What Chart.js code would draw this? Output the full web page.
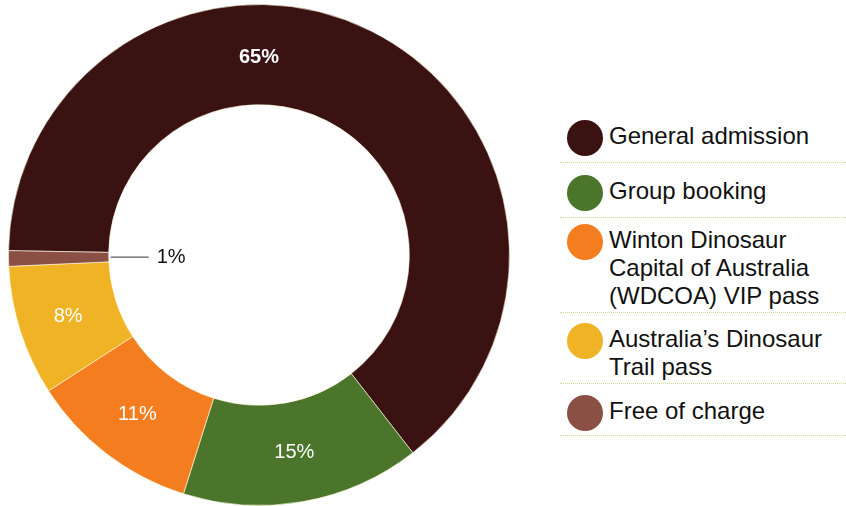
<!DOCTYPE html>
<html>
<head>
<meta charset="utf-8">
<script src="https://cdn.jsdelivr.net/npm/chart.js@4"></script>
<style>
  html, body { margin: 0; padding: 0; background: #fff; overflow: hidden; }
  body { width: 846px; height: 506px; position: relative; font-family: "Liberation Sans", Arial, sans-serif; }
  #ticketChart { position: absolute; left: 0; top: 0; }
  #legend { position: absolute; left: 560px; top: 108px; width: 286px; }
  .row { display: flex; align-items: flex-start; box-sizing: border-box; border-bottom: 1px dotted #d9d39c; padding-left: 7px; }
  .dot { width: 36px; height: 36px; border-radius: 50%; flex: none; margin-top: -2px; margin-right: 6px; }
  .txt { font-size: 24px; line-height: 28px; color: #111; width: 230px; }
</style>
</head>
<body>
<canvas id="ticketChart" width="520" height="506"></canvas>
<div id="legend"></div>
<script>
const labels = ['General admission', 'Group booking', 'Winton Dinosaur Capital of Australia (WDCOA) VIP pass', 'Australia\u2019s Dinosaur Trail pass', 'Free of charge'];
const shares = [64.2, 15.4, 11.0, 8.4, 1.0];
const shareLabels = ['65%', '15%', '11%', '8%', '1%'];
const colors = ['#3b1212', '#4a752a', '#f47d20', '#f0b325', '#8a4f45'];

// legend rows (heights / top padding picked by eye)
const rowHeights = [55, 55, 95, 71, 52];
const rowPads = [14, 14, 8, 12, 13];
const legendEl = document.getElementById('legend');
labels.forEach((lab, i) => {
    const row = document.createElement('div');
    row.className = 'row';
    row.style.height = rowHeights[i] + 'px';
    row.style.paddingTop = rowPads[i] + 'px';
    row.innerHTML = '<div class="dot" style="background:' + colors[i] + '"></div><div class="txt">' + lab + '</div>';
    legendEl.appendChild(row);
});

// percentage labels on the ring
const sliceLabels = {
    id: 'sliceLabels',
    afterDatasetsDraw(chart) {
        const ctx = chart.ctx;
        const meta = chart.getDatasetMeta(0);
        ctx.save();
        ctx.textBaseline = 'middle';
        meta.data.forEach((arc, i) => {
            const p = arc.getProps(['x', 'y', 'startAngle', 'endAngle', 'innerRadius', 'outerRadius'], true);
            let ang = (p.startAngle + p.endAngle) / 2;
            let r = (p.innerRadius + p.outerRadius) / 2;
            if (i === 0) { ang = -Math.PI / 2; r -= 3; }
            const txt = shareLabels[i];
            if (shares[i] < 3) {
                const x0 = p.x + Math.cos(ang) * p.innerRadius;
                const y0 = p.y + Math.sin(ang) * p.innerRadius;
                ctx.strokeStyle = '#333';
                ctx.lineWidth = 1;
                ctx.beginPath();
                ctx.moveTo(x0 + 2, y0);
                ctx.lineTo(x0 + 40, y0);
                ctx.stroke();
                ctx.fillStyle = '#111';
                ctx.font = '20px "Liberation Sans", Arial';
                ctx.textAlign = 'left';
                ctx.fillText(txt, x0 + 48, y0);
                return;
            }
            ctx.fillStyle = '#fff';
            ctx.font = (i === 0 ? 'bold ' : '') + '20px "Liberation Sans", Arial';
            ctx.textAlign = 'center';
            ctx.fillText(txt, p.x + Math.cos(ang) * r, p.y + Math.sin(ang) * r);
        });
        ctx.restore();
    }
};

new Chart(document.getElementById('ticketChart').getContext('2d'), {
    type: 'doughnut',
    data: {
        labels: labels,
        datasets: [{
            data: shares,
            backgroundColor: colors,
            borderColor: 'rgba(255,250,225,0.6)',
            borderWidth: 1
        }]
    },
    options: {
        responsive: false,
        animation: false,
        cutout: '60%',
        rotation: -89,
        layout: { padding: { left: 8, right: 10, top: 4, bottom: 0 } },
        plugins: { legend: { display: false }, tooltip: { enabled: false } }
    },
    plugins: [sliceLabels]
});
</script>
</body>
</html>
